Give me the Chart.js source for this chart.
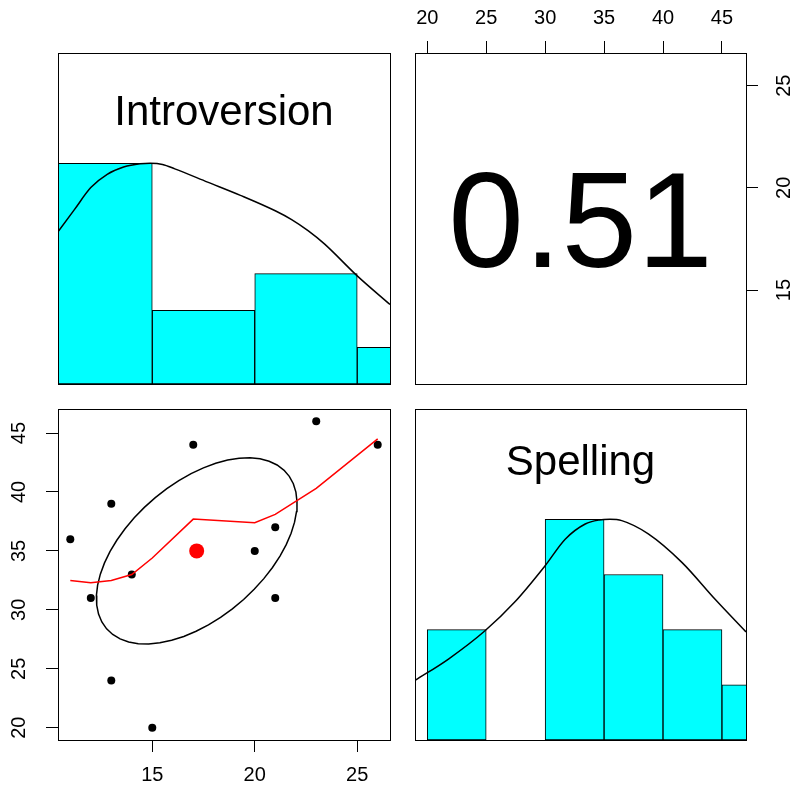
<!DOCTYPE html>
<html>
<head>
<meta charset="utf-8">
<script src="https://cdn.jsdelivr.net/npm/chart.js@4.4.1/dist/chart.umd.min.js"></script>
<style>
  html, body { margin: 0; padding: 0; background: #ffffff; }
  #wrap { position: relative; width: 793px; height: 791px; overflow: hidden; }
  #wrap canvas { position: absolute; left: 0; top: 0; }
</style>
</head>
<body>
<div id="wrap">
  <canvas id="cIntro" width="793" height="791"></canvas>
  <canvas id="cCorr" width="793" height="791"></canvas>
  <canvas id="cScatter" width="793" height="791"></canvas>
  <canvas id="cSpell" width="793" height="791"></canvas>
</div>
<script>
// ---- data -------------------------------------------------------------
// paired scores, one entry per student
const introversion = [11, 12, 13, 13, 14, 15, 17, 20, 21, 21, 23, 26];
const spelling     = [36, 31, 39, 24, 33, 20, 44, 35, 37, 31, 46, 44];
const correlation  = 0.51;

// histogram bins (lower edges, width 5) and counts
const introBreaks = [10, 15, 20, 25];
const introCounts = [6, 2, 3, 1];
const spellBreaks = [20, 25, 30, 35, 40, 45];
const spellCounts = [2, 0, 4, 3, 2, 1];

// kernel density curves, scaled so the peak is 1
const introDensX = [10.4, 11.2, 12.0, 12.8, 13.6, 14.4, 14.9, 15.5, 16.1, 17.7, 19.3, 21.0, 21.8, 22.6, 23.4, 25.0, 26.6];
const introDensY = [0.69, 0.79, 0.89, 0.95, 0.983, 0.998, 1.0, 0.995, 0.975, 0.915, 0.855, 0.785, 0.745, 0.695, 0.635, 0.49, 0.36];
const spellDensX = [18.96, 21.8, 24.9, 27.4, 30.0, 31.7, 33.4, 34.6, 35.5, 36.5, 38.75, 41.6, 44.4, 47.04];
const spellDensY = [0.27, 0.367, 0.495, 0.624, 0.79, 0.91, 0.979, 0.997, 1.0, 0.994, 0.934, 0.805, 0.639, 0.49];

// lowess smoother of spelling on introversion
const lowessX = [11, 12, 13, 14, 15, 17, 20, 21, 23, 26];
const lowessY = [32.5, 32.3, 32.5, 33.0, 34.4, 37.7, 37.4, 38.1, 40.3, 44.5];

// axis tick values
const introTicks = [15, 20, 25];
const spellTicks = [20, 25, 30, 35, 40, 45];

// ---- layout -----------------------------------------------------------
const W = 793, H = 791;
const COL_X = [[58, 390], [415, 746]];
const ROW_Y = [[53, 384], [409, 740]];
const FONT = '"Liberation Sans", Arial, Helvetica, sans-serif';
const CYAN = '#00ffff';

Chart.defaults.font.family = FONT;

function padRange(v) {
  const lo = Math.min(...v), hi = Math.max(...v), d = (hi - lo) * 0.04;
  return [lo - d, hi + d];
}
const introRange = padRange(introversion);
const spellRange = padRange(spelling);

function mean(v) { return v.reduce((s, x) => s + x, 0) / v.length; }
function sd(v) {
  const m = mean(v);
  return Math.sqrt(v.reduce((s, x) => s + (x - m) * (x - m), 0) / (v.length - 1));
}

// an outer axis fills the whole margin between its panel and the page edge
function marginOf(col, row, side) {
  if (side === 'left') return COL_X[col][0];
  if (side === 'right') return W - COL_X[col][1];
  if (side === 'top') return ROW_Y[row][0];
  return H - ROW_Y[row][1];
}

function layoutPadding(col, row, sides) {
  const p = {};
  for (const side of ['left', 'right', 'top', 'bottom']) {
    p[side] = sides.includes(side) ? 0 : marginOf(col, row, side);
  }
  return p;
}

function axis(range, ticks, position, visible, size) {
  const vertical = position === 'left' || position === 'right';
  const cfg = {
    type: 'linear', position, min: range[0], max: range[1], offset: false,
    display: visible,
    afterBuildTicks: s => { s.ticks = ticks.map(v => ({ value: v })); },
    border: { display: false },
    grid: { drawOnChartArea: false, drawTicks: true, tickLength: 12, color: '#000', lineWidth: 1 },
    ticks: {
      autoSkip: false, color: '#000', font: { family: FONT, size: 20 },
      padding: vertical ? 15 : 11,
      minRotation: vertical ? 90 : 0, maxRotation: vertical ? 90 : 0,
      crossAlign: vertical ? 'center' : 'near',
      callback: v => String(v)
    }
  };
  if (visible) {
    cfg.afterFit = s => { if (vertical) s.width = size; else s.height = size; };
  }
  return cfg;
}

// panel frame plus an optional centred caption
function decor(caption) {
  return {
    id: 'decor',
    afterDraw(chart) {
      const { ctx, chartArea: a } = chart;
      ctx.save();
      ctx.strokeStyle = '#000';
      ctx.lineWidth = 1;
      ctx.strokeRect(a.left + 0.5, a.top + 0.5, a.right - a.left, a.bottom - a.top);
      if (caption) {
        ctx.fillStyle = '#000';
        ctx.font = caption.size + 'px ' + FONT;
        ctx.textAlign = 'center';
        ctx.textBaseline = 'alphabetic';
        ctx.fillText(caption.text, (a.left + a.right) / 2, a.top + caption.baseline);
      }
      ctx.restore();
    }
  };
}

const common = {
  responsive: false,
  animation: false,
  devicePixelRatio: 1,
  events: [],
  plugins: { legend: { display: false }, tooltip: { enabled: false } }
};

function histogramChart(id, col, row, breaks, counts, densX, densY, range, ticks, caption) {
  const maxCount = Math.max(...counts);
  const width = breaks[1] - breaks[0];
  new Chart(document.getElementById(id), {
    type: 'bar',
    data: {
      datasets: [
        {
          type: 'line', order: 0,
          data: densX.map((x, i) => ({ x, y: densY[i] })),
          borderColor: '#000', borderWidth: 1.5, pointRadius: 0,
          cubicInterpolationMode: 'monotone', fill: false
        },
        {
          type: 'bar', order: 1,
          data: breaks.map((b, i) => ({ x: b + width / 2, y: counts[i] / maxCount })),
          backgroundColor: CYAN, borderColor: '#000', borderWidth: 1,
          borderSkipped: false, categoryPercentage: 1, barPercentage: 1
        }
      ]
    },
    options: Object.assign({}, common, {
      layout: { padding: layoutPadding(col, row, []) },
      scales: {
        x: axis(range, ticks, 'bottom', false),
        y: axis([0, 1.5], [0, 0.5, 1, 1.5], 'left', false)
      }
    }),
    plugins: [decor(caption)]
  });
}

// Introversion histogram (top left)
histogramChart('cIntro', 0, 0, introBreaks, introCounts, introDensX, introDensY,
  introRange, introTicks, { text: 'Introversion', size: 42, baseline: 72 });

// Spelling histogram (bottom right)
histogramChart('cSpell', 1, 1, spellBreaks, spellCounts, spellDensX, spellDensY,
  spellRange, spellTicks, { text: 'Spelling', size: 42, baseline: 66 });

// correlation panel (top right) carrying the outer top and right axes
new Chart(document.getElementById('cCorr'), {
  type: 'scatter',
  data: { datasets: [] },
  options: Object.assign({}, common, {
    layout: { padding: layoutPadding(1, 0, ['top', 'right']) },
    scales: {
      x: axis(spellRange, spellTicks, 'top', true, marginOf(1, 0, 'top')),
      y: axis(introRange, introTicks, 'right', true, marginOf(1, 0, 'right'))
    }
  }),
  plugins: [decor({ text: correlation.toFixed(2), size: 136, baseline: 214 })]
});

// scatter panel (bottom left): points, correlation ellipse, lowess, mean
const mx = mean(introversion), my = mean(spelling);
const sx = sd(introversion), sy = sd(spelling);
const ellipse = [];
{
  const segments = 51, t = 1 / Math.sqrt(2);
  const a = Math.sqrt(1 + correlation), b = Math.sqrt(1 - correlation);
  for (let k = 0; k <= segments; k++) {
    const ang = 2 * Math.PI * k / segments, c = Math.cos(ang), s = Math.sin(ang);
    ellipse.push({ x: (c * a * t - s * b * t) * sx + mx, y: (c * a * t + s * b * t) * sy + my });
  }
}

new Chart(document.getElementById('cScatter'), {
  type: 'scatter',
  data: {
    datasets: [
      { data: [{ x: mx, y: my }], pointRadius: 7.5, backgroundColor: '#ff0000', borderWidth: 0, order: 0 },
      { data: lowessX.map((x, i) => ({ x, y: lowessY[i] })), showLine: true, borderColor: '#ff0000',
        borderWidth: 1.5, pointRadius: 0, fill: false, order: 1 },
      { data: ellipse, showLine: true, borderColor: '#000', borderWidth: 1.5, pointRadius: 0,
        fill: false, order: 2 },
      { data: introversion.map((x, i) => ({ x, y: spelling[i] })), pointRadius: 4,
        backgroundColor: '#000', borderWidth: 0, order: 3 }
    ]
  },
  options: Object.assign({}, common, {
    layout: { padding: layoutPadding(0, 1, ['left', 'bottom']) },
    scales: {
      x: axis(introRange, introTicks, 'bottom', true, marginOf(0, 1, 'bottom')),
      y: axis(spellRange, spellTicks, 'left', true, marginOf(0, 1, 'left'))
    }
  }),
  plugins: [decor(null)]
});
</script>
</body>
</html>
